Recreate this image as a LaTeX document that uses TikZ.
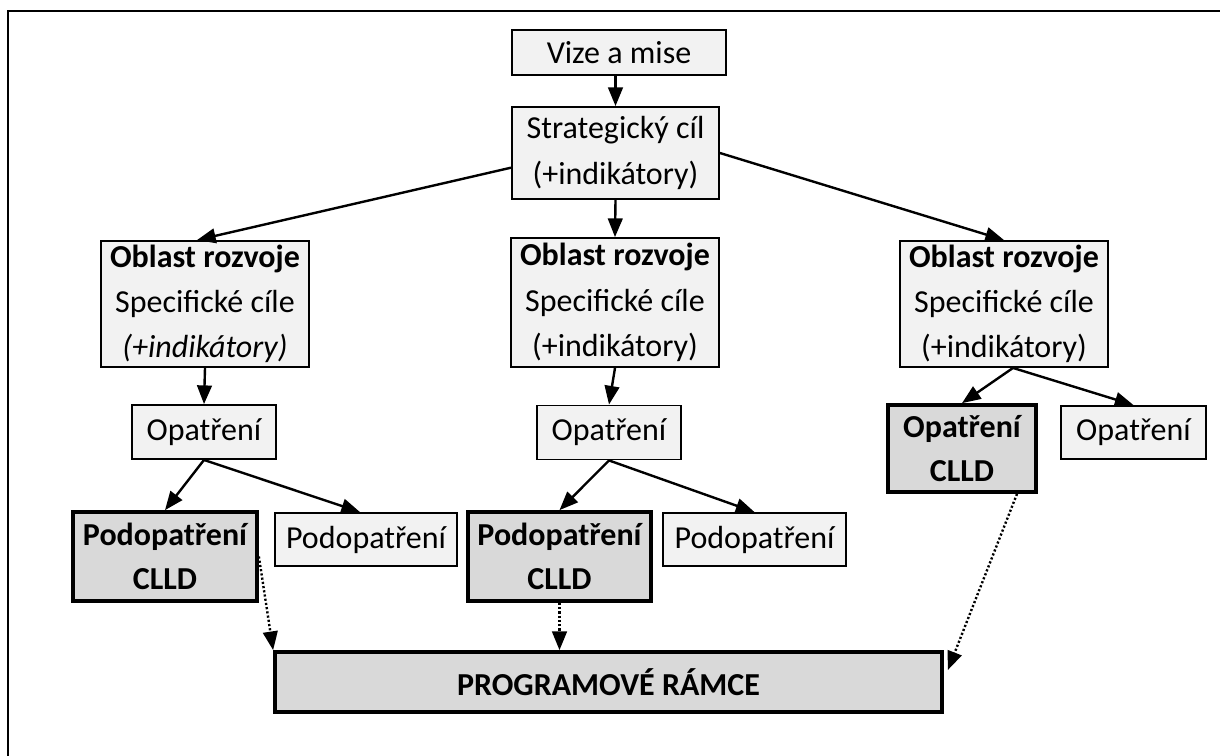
\documentclass[tikz,border=0pt]{standalone}
\usepackage{fontspec}
\setmainfont{Carlito}
\usetikzlibrary{arrows.meta,calc}

\tikzset{every picture/.style={line width=0.75pt}}
\definecolor{boxfill}{RGB}{242,242,242}
\definecolor{clldfill}{RGB}{217,217,217}
\tikzset{
  box/.style={draw, fill=boxfill, line width=1.4pt, inner sep=0pt, align=center, font=\fontsize{24}{34}\selectfont},
  clldbox/.style={box, fill=clldfill, line width=2.8pt, font=\fontsize{24}{32.5}\selectfont\bfseries},
  link/.style={line width=1.8pt, -{Triangle[length=14pt,width=11pt]}},
  clldlink/.style={link, dash pattern=on 1.6pt off 1.6pt}
}

\begin{document}
\begin{tikzpicture}[x=0.75pt,y=0.75pt,yscale=-1,xscale=1]
	\useasboundingbox (0,0) rectangle (1220,756);

	%Frame
	\draw [line width=1.5pt] (8,756) -- (8,11.5) -- (1220,11.5) ;

	% Text Node
	\node [box, minimum width=160.5pt, minimum height=33.75pt] (vize) at (619,52.5) {Vize a mise};
	% Text Node
	\node [box, minimum width=155.25pt, minimum height=69pt] (strat) at (615.5,153) {Strategický cíl\\(+indikátory)};

	% Text Node
	\node [box, minimum width=156pt, minimum height=94.5pt] (oblL) at (205,304) {\textbf{Oblast rozvoje}\\Specifické cíle\\\textit{(+indikátory)}};
	% Text Node
	\node [box, minimum width=156pt, minimum height=96.75pt] (oblM) at (615,302.5) {\textbf{Oblast rozvoje}\\Specifické cíle\\(+indikátory)};
	% Text Node
	\node [box, minimum width=156pt, minimum height=94.5pt] (oblR) at (1004,304) {\textbf{Oblast rozvoje}\\Specifické cíle\\(+indikátory)};

	% Text Node
	\node [box, minimum width=108pt, minimum height=40.5pt] (opL) at (204,432) {Opatření};
	% Text Node
	\node [box, minimum width=108pt, minimum height=40.5pt] (opM) at (609,432.5) {Opatření};
	% Text Node
	\node [clldbox, minimum width=111pt, minimum height=65.25pt] (opRc) at (962,448.5) {Opatření\\CLLD};
	% Text Node
	\node [box, minimum width=108.75pt, minimum height=39.75pt] (opR) at (1133.5,432.5) {Opatření};

	% Text Node
	\node [clldbox, minimum width=138pt, minimum height=66.75pt] (podLc) at (165,556.5) {Podopatření\\CLLD};
	% Text Node
	\node [box, minimum width=136.5pt, minimum height=39.75pt] (podL) at (366,539.5) {Podopatření};
	% Text Node
	\node [clldbox, minimum width=137.25pt, minimum height=66.75pt] (podMc) at (559.5,556.5) {Podopatření\\CLLD};
	% Text Node
	\node [box, minimum width=137.25pt, minimum height=39.75pt] (podM) at (754.5,539.5) {Podopatření};

	% Text Node
	\node [clldbox, minimum width=500.25pt, minimum height=45pt] (prog) at (608.5,682) {PROGRAMOVÉ RÁMCE};

	%Straight Lines
	\draw [link] (strat.north |- vize.south) -- (strat.north) ;
	\draw [link] (strat.188) -- ($(oblL.north)+(-8,0)$) ;
	\draw [link] (strat.south) -- (oblM.north) ;
	\draw [link] (strat.east) -- (oblR.north) ;

	\draw [link] (oblL.south) -- (opL.north) ;
	\draw [link] (oblM.south) -- (opM.north) ;
	\draw [link] ($(oblR.south)+(9,0)$) -- (opRc.north) ;
	\draw [link] ($(oblR.south)+(9,0)$) -- (opR.north) ;

	\draw [link] (opL.south) -- (podLc.north) ;
	\draw [link] (opL.south) -- ($(podL.north)+(-6,0)$) ;
	\draw [link] (opM.south) -- (podMc.north) ;
	\draw [link] (opM.south) -- (podM.north) ;

	%Dotted Lines
	\draw [clldlink] (podLc.east) -- (prog.north west) ;
	\draw [clldlink] (podMc.south) -- (podMc.south |- prog.north) ;
	\draw [clldlink] ($(opRc.south)+(55,0)$) -- ($(prog.east)+(4,-12)$) ;

\end{tikzpicture}
\end{document}
